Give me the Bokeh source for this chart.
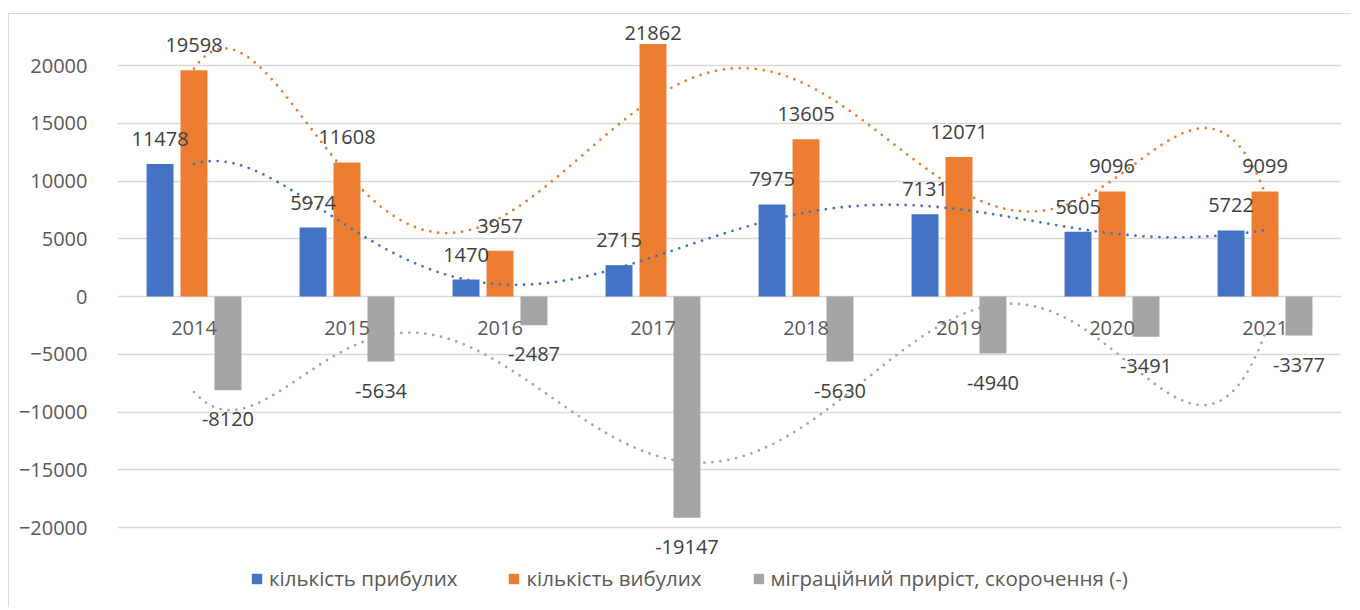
import numpy as np
from bokeh.plotting import figure
from bokeh.models import ColumnDataSource, Range1d, FixedTicker, Legend, LegendItem
from bokeh.transform import dodge
from bokeh.core.properties import value
from bokeh.embed import file_html
from bokeh.resources import INLINE

years = ["2014", "2015", "2016", "2017", "2018", "2019", "2020", "2021"]
arrived = [11478, 5974, 1470, 2715, 7975, 7131, 5605, 5722]
departed = [19598, 11608, 3957, 21862, 13605, 12071, 9096, 9099]
migration = [-8120, -5634, -2487, -19147, -5630, -4940, -3491, -3377]
y_ticks = [-20000, -15000, -10000, -5000, 0, 5000, 10000, 15000, 20000]
series_names = ["кількість прибулих", "кількість вибулих", "міграційний приріст, скорочення (-)"]

BLUE, ORANGE, GREY = "#4472C4", "#ED7D31", "#A5A5A5"
FONT = "Open Sans"

Y0, Y1 = -27013, 24416
H = 594

# data labels sit 25px above the bar end, but (as in the spreadsheet) are kept
# inside the plot area: centre at least 18px below its top edge
ppu = H / (Y1 - Y0)


def label_offsets(vals):
    return [-min(25.0, (Y1 - v) * ppu - 18.0) for v in vals]


idx = list(range(len(years)))
src = ColumnDataSource(dict(
    i=idx, year=years, arrived=arrived, departed=departed, migration=migration,
    arrived_t=[str(v) for v in arrived], departed_t=[str(v) for v in departed],
    migration_t=[str(v) for v in migration], zero=[0] * len(years),
    arrived_off=label_offsets(arrived), departed_off=label_offsets(departed),
))

p = figure(width=1343, height=H, output_backend="svg", toolbar_location=None,
           x_range=Range1d(-0.5, 7.5), y_range=Range1d(Y0, Y1),
           min_border_left=108, min_border_right=11, min_border_top=0, min_border_bottom=0)
p.styles = {"border-top": "1px solid #d9d9d9", "border-left": "1px solid #d9d9d9",
            "margin-top": "13px", "margin-left": "8px"}
p.outline_line_color = None
p.background_fill_color = "white"
p.border_fill_color = "white"

p.xaxis.visible = False
p.xgrid.visible = False
p.yaxis.ticker = FixedTicker(ticks=y_ticks)
p.ygrid.ticker = FixedTicker(ticks=y_ticks)
p.ygrid.grid_line_color = "#d9d9d9"
p.ygrid.grid_line_width = 1.5
p.yaxis.axis_line_color = None
p.yaxis.major_tick_line_color = None
p.yaxis.minor_tick_line_color = None
p.yaxis.major_label_standoff = 24
p.yaxis.major_label_text_font = FONT
p.yaxis.major_label_text_font_size = "20px"
p.yaxis.major_label_text_color = "#595959"

bw = 0.176
off = 0.222
r1 = p.vbar(x=dodge("i", -off), top="arrived", width=bw, source=src, fill_color=BLUE, line_color=None)
r2 = p.vbar(x=dodge("i", 0), top="departed", width=bw, source=src, fill_color=ORANGE, line_color=None)
r3 = p.vbar(x=dodge("i", off), top="migration", width=bw, source=src, fill_color=GREY, line_color=None)

# polynomial (order 6) trendlines, as in the spreadsheet chart
xs = np.linspace(0, 7, 300)
for vals, col in [(arrived, BLUE), (departed, ORANGE), (migration, GREY)]:
    coef = np.polyfit(np.array(idx, dtype=float), np.array(vals, dtype=float), 6)
    p.line(xs, np.polyval(coef, xs), line_color=col, line_width=2.8,
           line_dash="0 8", line_cap="round")

lbl = dict(text_font=value(FONT), text_font_size="20px", text_color="#404040",
           text_align="center", text_baseline="middle", source=src)
p.text(x=dodge("i", -off), y="arrived", text="arrived_t", y_offset="arrived_off", **lbl)
p.text(x=dodge("i", 0), y="departed", text="departed_t", y_offset="departed_off", **lbl)
p.text(x=dodge("i", off), y="migration", text="migration_t", y_offset=29, **lbl)
p.text(x="i", y="zero", text="year", y_offset=31,
       text_font=value(FONT), text_font_size="20px", text_color="#595959",
       text_align="center", text_baseline="middle", source=src)

legend = Legend(items=[LegendItem(label=series_names[0], renderers=[r1]),
                       LegendItem(label=series_names[1], renderers=[r2]),
                       LegendItem(label=series_names[2], renderers=[r3])],
                orientation="horizontal", location=(133, 16),
                glyph_width=13, glyph_height=13, label_standoff=6, spacing=50,
                padding=0, margin=0, border_line_color=None, background_fill_alpha=0,
                label_text_font=FONT, label_text_font_size="20.5px", label_text_color="#595959")
p.add_layout(legend, "center")

open("out.html", "w").write(file_html(p, INLINE))
